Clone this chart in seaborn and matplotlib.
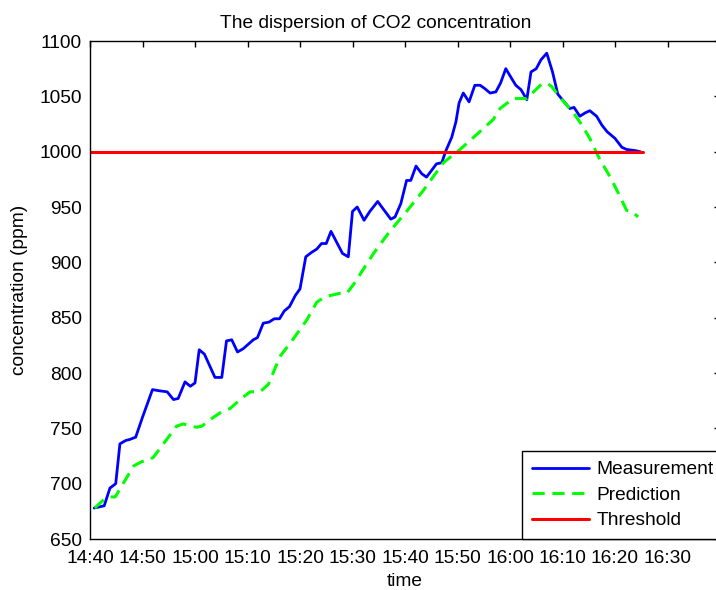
# CO2 concentration: measured vs predicted, with the 1000 ppm threshold
import pandas as pd
import seaborn as sb
import matplotlib.pyplot as plt

meas_min = [0.8, 2.7, 3.8, 4.9, 5.7, 6.8, 7.6, 8.7, 10.0, 11.9, 13.1, 14.7, 15.9,
            16.8, 18.1, 19.1, 20.0, 20.8, 21.8, 23.8, 25.1, 26.0, 27.0, 28.1, 29.2,
            31.1, 31.9, 33.0, 34.1, 35.1, 36.1, 37.0, 38.0, 39.1, 40.0, 41.1, 42.2,
            43.2, 44.1, 45.0, 45.9, 47.0, 48.1, 49.2, 50.0, 50.9, 52.2, 53.3, 54.8,
            56.2, 57.3, 58.1, 59.2, 60.3, 61.1, 62.1, 63.2, 64.1, 66.0, 67.0, 67.8,
            68.9, 69.7, 70.3, 71.1, 72.2, 73.3, 74.3, 75.2, 76.2, 77.3, 78.2, 79.2,
            80.2, 81.1, 82.1, 83.2, 84.0, 85.0, 85.9, 87.0, 88.1, 89.1, 90.5, 91.4,
            92.2, 93.3, 94.3, 95.2, 96.5, 97.5, 98.5, 100.0, 101.3, 102.2, 103.8, 104.8]
meas_ppm = [678, 680, 696, 700, 736, 739, 740, 742, 760, 785, 784, 783, 776,
            777, 792, 788, 791, 821, 817, 796, 796, 829, 830, 819, 822,
            830, 832, 845, 846, 849, 849, 856, 860, 870, 876, 905, 909,
            912, 917, 917, 928, 918, 908, 905, 946, 950, 938, 946, 955,
            946, 939, 941, 953, 974, 974, 987, 980, 977, 989, 990, 1001,
            1013, 1027, 1044, 1053, 1045, 1060, 1060, 1057, 1053, 1054, 1062, 1075,
            1067, 1060, 1056, 1047, 1072, 1075, 1083, 1089, 1072, 1052, 1044, 1039,
            1040, 1032, 1035, 1037, 1032, 1024, 1018, 1012, 1004, 1002, 1001, 1000]

# Prediction series
pred_min = [0.9, 2.5, 3.5, 4.8, 6.3, 8.3, 9.9, 11.1, 12.1, 14.3, 16.5, 17.8, 19.1,
            20.3, 21.3, 22.9, 25.1, 26.7, 28.6, 30.5, 32.4, 34.0, 36.2, 38.6, 41.3,
            43.2, 44.8, 47.6, 48.9, 50.2, 54.0, 57.1, 60.3, 63.5, 67.3, 70.5, 76.8,
            78.1, 80.6, 83.2, 86.0, 87.0, 87.9, 89.9, 92.1, 93.7, 95.2, 97.1, 99.1,
            101.0, 102.2, 103.2, 104.4]
pred_ppm = [678, 685, 688, 688, 700, 716, 720, 721, 724, 738, 752, 754, 752,
            751, 752, 758, 765, 768, 776, 783, 783, 790, 815, 830, 848,
            864, 869, 872, 872, 880, 908, 928, 946, 965, 990, 1002, 1029,
            1039, 1048, 1048, 1061, 1062, 1059, 1047, 1035, 1024, 1012, 993, 977,
            959, 947, 946, 941]

# Threshold line
thr_min = [0, 105.3]
thr_ppm = [1000, 1000]

tick_min = [0, 10, 20, 30, 40, 50, 60, 70, 80, 90, 100, 110]
tick_labels = ['14:40', '14:50', '15:00', '15:10', '15:20', '15:30',
               '15:40', '15:50', '16:00', '16:10', '16:20', '16:30']

meas = pd.DataFrame({'time': meas_min, 'ppm': meas_ppm})
pred = pd.DataFrame({'time': pred_min, 'ppm': pred_ppm})
thr = pd.DataFrame({'time': thr_min, 'ppm': thr_ppm})

sb.set_style('white')
plt.rcParams['font.family'] = ['Liberation Sans', 'DejaVu Sans']
plt.rcParams['text.color'] = 'black'
plt.rcParams['axes.labelcolor'] = 'black'
fs = 13.8

fig = plt.figure(figsize=(7.16, 5.90), dpi=100)
ax = fig.add_axes([90 / 716, 51 / 590, 630 / 716, 498 / 590])

sb.lineplot(data=meas, x='time', y='ppm', ax=ax, color='#0000ff', linewidth=2.0,
            label='Measurement', sort=False)
sb.lineplot(data=pred, x='time', y='ppm', ax=ax, color='#00ff00', linewidth=2.2,
            label='Prediction', sort=False, linestyle=(0, (4, 2.5)))
sb.lineplot(data=thr, x='time', y='ppm', ax=ax, color='#ff0000', linewidth=2.2,
            label='Threshold', sort=False)

ax.set_xlim(0, 120)
ax.set_ylim(650, 1100)
ax.set_xticks(tick_min)
ax.set_xticklabels(tick_labels)
ax.set_yticks(range(650, 1101, 50))
ax.tick_params(direction='in', length=4, width=1, top=True, right=True,
               labelsize=fs, colors='black')
ax.tick_params(axis='x', pad=8)
ax.tick_params(axis='y', pad=6)
for s in ax.spines.values():
    s.set_visible(True)
    s.set_color('black')
    s.set_linewidth(1.0)

ax.set_title('The dispersion of CO2 concentration', fontsize=fs, x=0.454, pad=9,
             color='black')
ax.set_xlabel('time', fontsize=fs, labelpad=4)
ax.set_ylabel('concentration (ppm)', fontsize=fs, labelpad=8)

# legend runs off the right edge of the figure, as in the original
leg = ax.legend(loc='lower left', bbox_to_anchor=((522 - 90) / 630, 0, 0.36, 0.2),
                mode='expand', fontsize=fs, frameon=True, fancybox=False,
                handlelength=3.0, handletextpad=0.4, borderpad=0.5,
                labelspacing=0.42, borderaxespad=0)
leg.get_frame().set_edgecolor('black')
leg.get_frame().set_linewidth(1.0)
leg.get_frame().set_alpha(1)
for t in leg.get_texts():
    t.set_color('black')

fig.savefig('out.png', dpi=100)
